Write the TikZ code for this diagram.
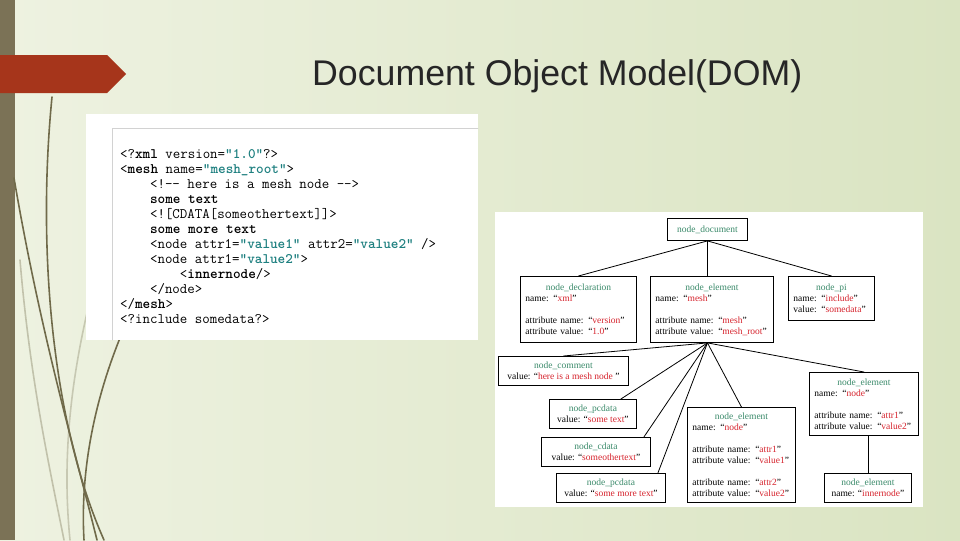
\documentclass[tikz,border=0pt]{standalone}
\usepackage{fontspec}
\newfontfamily\titlefont{Liberation Sans}
\newfontfamily\domfont{Liberation Serif}
\definecolor{slidebar}{RGB}{123,114,86}
\definecolor{slidered}{RGB}{166,53,27}
\definecolor{curveolive}{RGB}{112,106,74}
\definecolor{bgleft}{RGB}{238,242,225}
\definecolor{bgright}{RGB}{218,228,194}
\definecolor{codeteal}{RGB}{30,128,128}
\definecolor{domgreen}{RGB}{58,138,106}
\definecolor{domred}{RGB}{214,34,44}
\newcommand{\hd}[1]{\textcolor{domgreen}{#1}}
\newcommand{\hdc}[1]{\makebox[\hsize][c]{\hd{#1}}}
\newcommand{\vq}[1]{“\textcolor{domred}{#1}”}
\newcommand{\cs}[1]{\textcolor{codeteal}{\textbf{"#1"}}}
\newcommand{\ind}{\phantom{xxxx}}

\begin{document}
\begin{tikzpicture}[x=1pt,y=-1pt,line cap=round,
  dombox/.style={draw=black,line width=0.9pt,fill=white,inner xsep=5pt,inner ysep=0pt,anchor=north west,
    font=\domfont\fontsize{9.5}{11}\selectfont},
  domleft/.style={dombox,align=left,text width=#1},
  domcenter/.style={dombox,align=center,minimum width=#1},
  link/.style={black,line width=0.8pt},
  deco/.style={curveolive,line width=1.6pt}]
  % slide background
  \shade[left color=bgleft,right color=bgright] (0,0) rectangle (960,540);
  \fill[slidebar] (0,0) rectangle (15,540);
  \draw[deco] (52,97) .. controls (36,260) and (55,430) .. (104,540);
  \draw[deco] (14,178) .. controls (40,330) and (72,440) .. (97,540);
  \draw[deco] (120,338) .. controls (95,400) and (80,470) .. (84,540);
  \draw[deco,opacity=0.35] (20,260) .. controls (30,380) and (50,470) .. (64,540);
  \draw[deco,opacity=0.3] (92,292) .. controls (70,380) and (62,460) .. (70,540);
  \fill[slidered] (0,55) -- (107,55) -- (126,74) -- (107,93) -- (0,93) -- cycle;
  \node[font=\titlefont\fontsize{35.7}{40}\selectfont,text=black!85,anchor=base west,inner sep=0pt]
    (title) at (312,85) {Document Object Model(DOM)};

  % xml source
  \fill[white] (86,114) rectangle (478,340);
  \draw[gray!35,line width=0.8pt] (112,340) -- (112,128) -- (478,128);
  \node[font=\ttfamily\fontsize{14.5}{15}\selectfont,align=left,anchor=north west,inner sep=0pt]
    (code) at (120,149) {%
    <?\textbf{xml} version=\cs{1.0}?>\\
    <\textbf{mesh} name=\cs{mesh\_root}>\\
    \ind<!-{}- here is a mesh node -{}->\\
    \ind\textbf{some text}\\
    \ind<![CDATA[someothertext]]>\\
    \ind\textbf{some more text}\\
    \ind<node attr1=\cs{value1} attr2=\cs{value2} />\\
    \ind<node attr1=\cs{value2}>\\
    \ind\ind<\textbf{innernode}/>\\
    \ind</node>\\
    </\textbf{mesh}>\\
    <?include somedata?>};

  % dom tree
  \fill[white] (495,212) rectangle (923,507);
  \node[domcenter=80pt,minimum height=22pt] (doc) at (667,218) {\hd{node\_document}};
  \node[domleft=106pt,minimum height=66pt] (decl) at (520,276)
    {\hdc{node\_declaration}\\ name: \vq{xml}\\[11pt] attribute name: \vq{version}\\ attribute value: \vq{1.0}};
  \node[domleft=113pt,minimum height=66pt] (mesh) at (650,276)
    {\hdc{node\_element}\\ name: \vq{mesh}\\[11pt] attribute name: \vq{mesh}\\ attribute value: \vq{mesh\_root}};
  \node[domleft=76pt,minimum height=44pt] (pi) at (788,276)
    {\hdc{node\_pi}\\ name: \vq{include}\\ value: \vq{somedata}};
  \node[domcenter=130pt,minimum height=29pt] (comment) at (498,356)
    {\hd{node\_comment}\\ value: \vq{ here is a mesh node }};
  \node[domcenter=87pt,minimum height=29pt] (pcdA) at (549,399)
    {\hd{node\_pcdata}\\ value: \vq{some text}};
  \node[domcenter=109pt,minimum height=29pt] (cdata) at (541,437)
    {\hd{node\_cdata}\\ value: \vq{someothertext}};
  \node[domcenter=109pt,minimum height=29pt] (pcdB) at (556,473)
    {\hd{node\_pcdata}\\ value: \vq{some more text}};
  \node[domleft=98pt,minimum height=95pt] (elA) at (687,407)
    {\hdc{node\_element}\\ name: \vq{node}\\[11pt] attribute name: \vq{attr1}\\ attribute value: \vq{value1}\\[11pt]
     attribute name: \vq{attr2}\\ attribute value: \vq{value2}};
  \node[domleft=99pt,minimum height=63pt] (elB) at (809,372)
    {\hdc{node\_element}\\ name: \vq{node}\\[11pt] attribute name: \vq{attr1}\\ attribute value: \vq{value2}};
  \node[domcenter=87pt,minimum height=29pt] (inner) at (824,473)
    {\hd{node\_element}\\ name: \vq{innernode}};

  \coordinate (hub) at (doc.south |- mesh.south);
  \draw[link] (doc.south) -- (decl.north);
  \draw[link] (doc.south) -- (doc.south |- mesh.north);
  \draw[link] (doc.south) -- (pi.north);
  \draw[link] (hub) -- (comment.north);
  \draw[link] (hub) -- ([xshift=-16pt]pcdA.north east);
  \draw[link] (hub) -- ([xshift=-7pt]cdata.north east);
  \draw[link] (hub) -- ([xshift=-8pt]pcdB.north east);
  \draw[link] (hub) -- (elA.north);
  \draw[link] (hub) -- (elB.north);
  \draw[link] (inner.north) -- (inner.north |- elB.south);
\end{tikzpicture}
\end{document}
